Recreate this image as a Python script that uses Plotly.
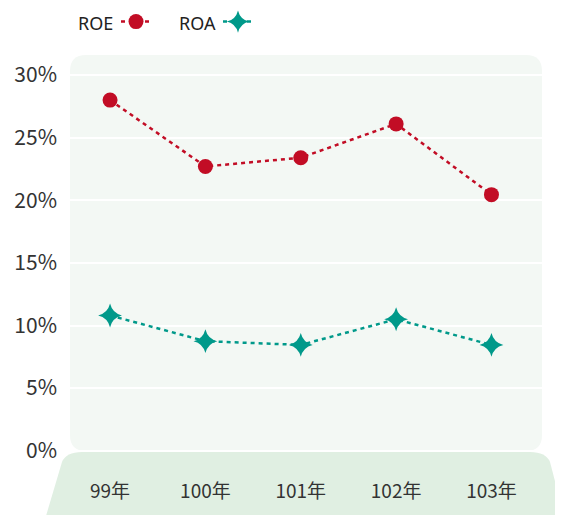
import plotly.graph_objects as go

years = ["99年", "100年", "101年", "102年", "103年"]
roe = [28.0, 22.7, 23.4, 26.1, 20.45]
roa = [10.8, 8.75, 8.45, 10.5, 8.45]
y_ticks = [0, 5, 10, 15, 20, 25, 30]
y_tick_labels = ["0%", "5%", "10%", "15%", "20%", "25%", "30%"]

# page body has an 8px margin; work in reference pixel coords and shift
O = 8
W, H = 563 - O, 515 - O
ML, MR, MT, MB = 70 - O, 21, 55 - O, 63
pw, ph = W - ML - MR, H - MT - MB

def px(x):
    return (x - O - ML) / pw

def py(y):
    return (H - MB - (y - O)) / ph

RED = "#c20d25"
TEAL = "#00998a"

fig = go.Figure()
fig.add_trace(go.Scatter(x=years, y=roe, name=" ", mode="lines+markers",
                         line=dict(color=RED, width=2.5, dash="4px,4px"),
                         marker=dict(color=RED, size=15, symbol="circle"),
                         legend="legend"))
fig.add_trace(go.Scatter(x=years, y=roa, name=" ", mode="lines+markers",
                         line=dict(color=TEAL, width=2.5, dash="4px,4px"),
                         marker=dict(color=TEAL, size=17, symbol="star-diamond"),
                         legend="legend2"))

def rrect(x0, y0, x1, y1, r):
    X0, X1 = px(x0), px(x1)
    Y0, Y1 = py(y0), py(y1)
    rx, ry = r / pw, r / ph
    return (f"M {X0+rx},{Y0} L {X1-rx},{Y0} Q {X1},{Y0} {X1},{Y0-ry} "
            f"L {X1},{Y1+ry} Q {X1},{Y1} {X1-rx},{Y1} L {X0+rx},{Y1} "
            f"Q {X0},{Y1} {X0},{Y1+ry} L {X0},{Y0-ry} Q {X0},{Y0} {X0+rx},{Y0} Z")

shapes = [
    dict(type="path", xref="paper", yref="paper", layer="below",
         path=rrect(70, 55, 542, 451, 16), fillcolor="#f3f8f4", line=dict(width=0)),
]
r = 16
t_y = 452
b_y = 516
tl, tr = 66, 546
bl, br = 46, 564
path = (f"M {px(tl+r)},{py(t_y)} L {px(tr-r)},{py(t_y)} Q {px(tr)},{py(t_y)} {px(tr+4)},{py(t_y+10)} "
        f"L {px(br)},{py(b_y)} L {px(bl)},{py(b_y)} L {px(tl-4)},{py(t_y+10)} "
        f"Q {px(tl)},{py(t_y)} {px(tl+r)},{py(t_y)} Z")
shapes.append(dict(type="path", xref="paper", yref="paper", layer="below",
                   path=path, fillcolor="#e0efe2", line=dict(width=0)))

fig.update_layout(
    width=W, height=H,
    margin=dict(l=ML, r=MR, t=MT, b=MB, autoexpand=False),
    paper_bgcolor="white", plot_bgcolor="rgba(0,0,0,0)",
    font=dict(family="Noto Sans CJK TC, Noto Sans, sans-serif", color="#333"),
    shapes=shapes,
    showlegend=True,
    legend=dict(x=px(116), y=py(22), xanchor="left", yanchor="middle",
                bgcolor="rgba(0,0,0,0)", font=dict(size=14)),
    legend2=dict(x=px(218), y=py(22), xanchor="left", yanchor="middle",
                 bgcolor="rgba(0,0,0,0)", font=dict(size=14)),
    annotations=[
        dict(text="ROE", x=px(76), y=py(23), xref="paper", yref="paper",
             xanchor="left", yanchor="middle", showarrow=False,
             font=dict(size=18, color="#222", family="Noto Sans, sans-serif")),
        dict(text="ROA", x=px(177), y=py(23), xref="paper", yref="paper",
             xanchor="left", yanchor="middle", showarrow=False,
             font=dict(size=18, color="#222", family="Noto Sans, sans-serif")),
    ],
    xaxis=dict(type="category", range=[-0.42, 4.53], showgrid=False, zeroline=False,
               showline=False, ticks="", tickfont=dict(size=19, color="#333"),
               ticklabelstandoff=26, fixedrange=True),
    yaxis=dict(range=[-0.1, 31.6], tickvals=y_ticks, ticktext=y_tick_labels,
               showgrid=True, gridcolor="white", gridwidth=2, zeroline=False,
               showline=False, ticks="", tickfont=dict(size=21, color="#333"),
               ticklabelstandoff=12, fixedrange=True),
)

fig.write_html("out.html")
